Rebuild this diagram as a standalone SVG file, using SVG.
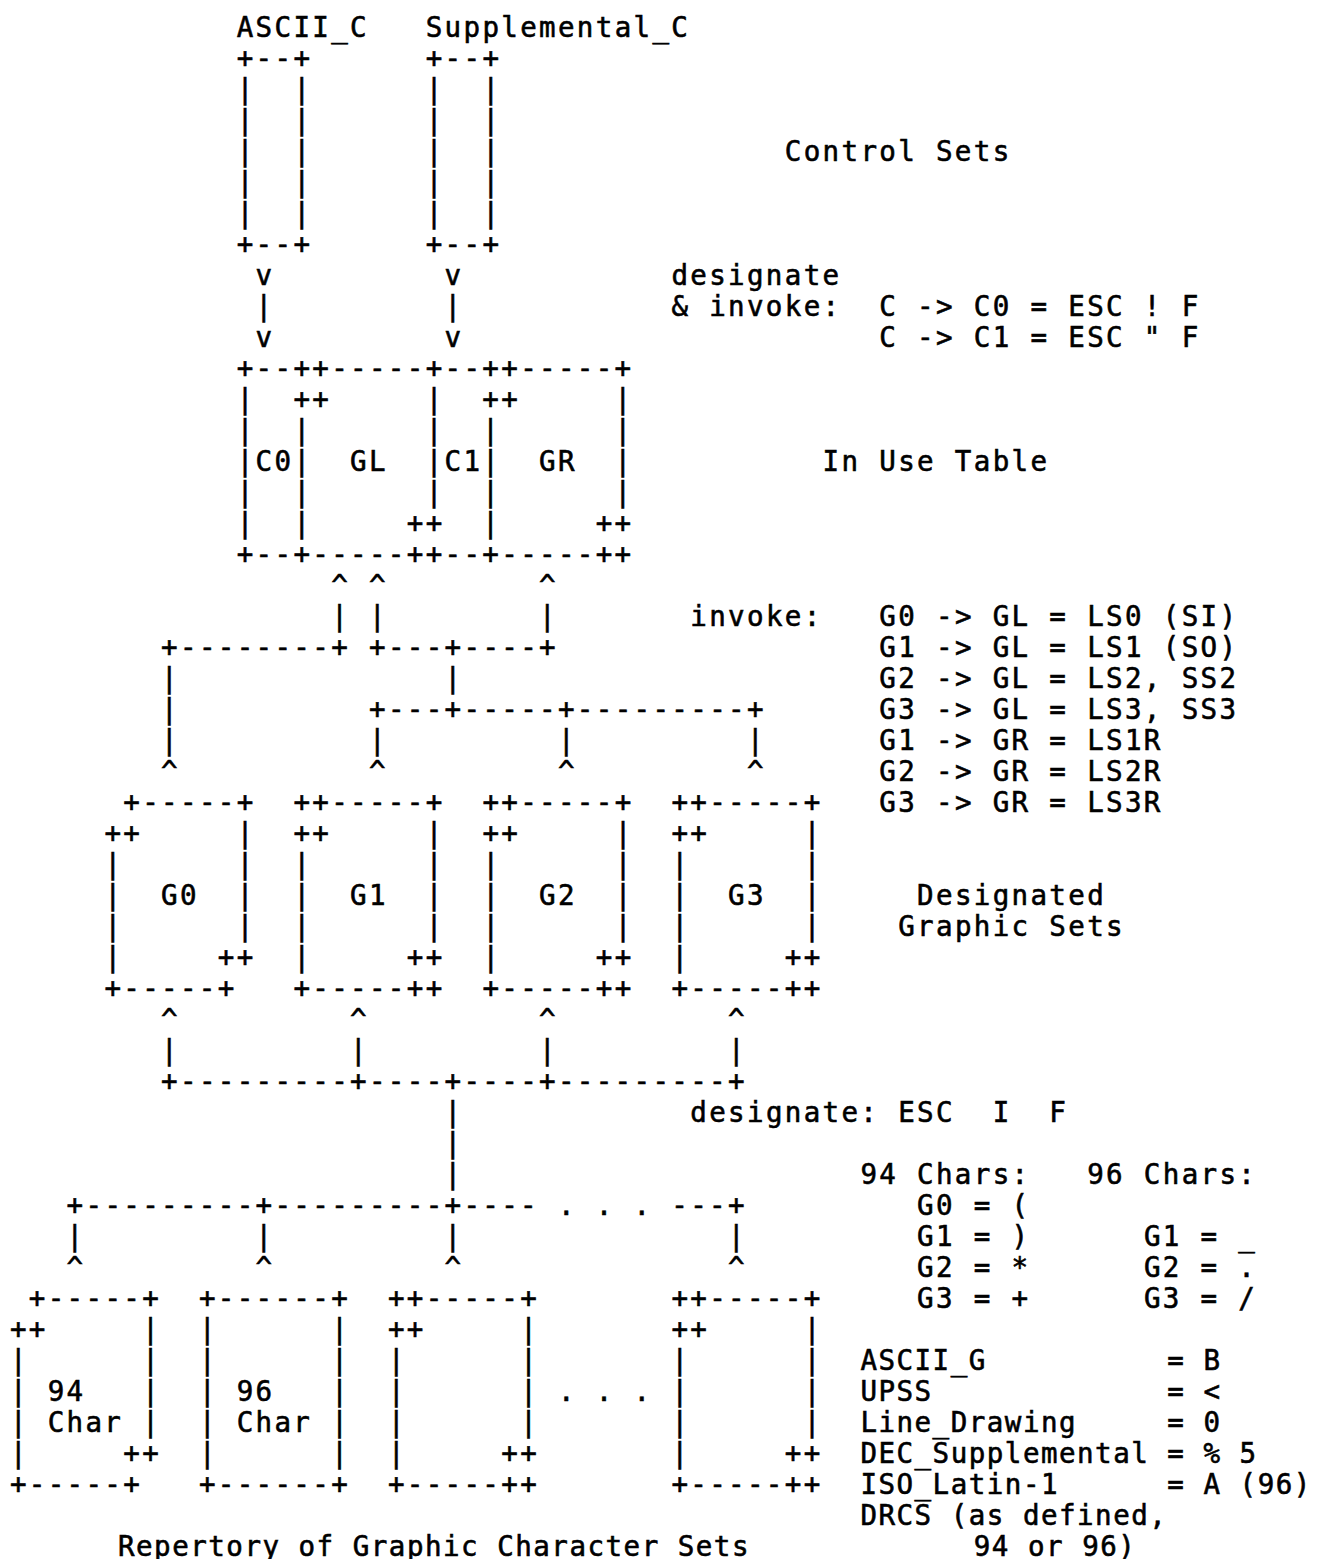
<svg xmlns="http://www.w3.org/2000/svg" width="1334" height="1559" viewBox="0 0 1334 1559">
<style>
text { font-family: "DejaVu Sans Mono", "Liberation Mono", monospace; font-size: 27.5px; letter-spacing: 2.34px; white-space: pre; fill: #000; stroke: #000; stroke-width: 0.6px; }
text.tight { letter-spacing: 1.5px; }
</style>
<rect x="0" y="0" width="1334" height="1559" fill="#fff"/>
<g id="node-ascii-c">
<text xml:space="preserve"><tspan x="236.7" y="37">ASCII_C</tspan><tspan x="236.7" y="68">+--+</tspan><tspan x="236.7" y="99">|  |</tspan><tspan x="236.7" y="130">|  |</tspan><tspan x="236.7" y="161">|  |</tspan><tspan x="236.7" y="192">|  |</tspan><tspan x="236.7" y="223">|  |</tspan><tspan x="236.7" y="254">+--+</tspan></text>
</g>
<g id="node-supplemental-c">
<text xml:space="preserve"><tspan x="425.7" y="37">Supplemental_C</tspan><tspan x="425.7" y="68">+--+</tspan><tspan x="425.7" y="99">|  |</tspan><tspan x="425.7" y="130">|  |</tspan><tspan x="425.7" y="161">|  |</tspan><tspan x="425.7" y="192">|  |</tspan><tspan x="425.7" y="223">|  |</tspan><tspan x="425.7" y="254">+--+</tspan></text>
</g>
<g id="node-in-use-table">
<text xml:space="preserve"><tspan x="236.7" y="378">+--++-----+--++-----+</tspan><tspan x="236.7" y="409">|  ++     |  ++     |</tspan><tspan x="236.7" y="440">|  |      |  |      |</tspan><tspan x="236.7" y="471">|C0|  GL  |C1|  GR  |</tspan><tspan x="236.7" y="502">|  |      |  |      |</tspan><tspan x="236.7" y="533">|  |     ++  |     ++</tspan><tspan x="236.7" y="564">+--+-----++--+-----++</tspan></text>
</g>
<g id="node-g0">
<text xml:space="preserve"><tspan x="123.3" y="812">+-----+</tspan><tspan x="104.4" y="843">++     |</tspan><tspan x="104.4" y="874">|      |</tspan><tspan x="104.4" y="905">|  G0  |</tspan><tspan x="104.4" y="936">|      |</tspan><tspan x="104.4" y="967">|     ++</tspan><tspan x="104.4" y="998">+-----+</tspan></text>
</g>
<g id="node-g1">
<text xml:space="preserve"><tspan x="293.4" y="812">++-----+</tspan><tspan x="293.4" y="843">++     |</tspan><tspan x="293.4" y="874">|      |</tspan><tspan x="293.4" y="905">|  G1  |</tspan><tspan x="293.4" y="936">|      |</tspan><tspan x="293.4" y="967">|     ++</tspan><tspan x="293.4" y="998">+-----++</tspan></text>
</g>
<g id="node-g2">
<text xml:space="preserve"><tspan x="482.4" y="812">++-----+</tspan><tspan x="482.4" y="843">++     |</tspan><tspan x="482.4" y="874">|      |</tspan><tspan x="482.4" y="905">|  G2  |</tspan><tspan x="482.4" y="936">|      |</tspan><tspan x="482.4" y="967">|     ++</tspan><tspan x="482.4" y="998">+-----++</tspan></text>
</g>
<g id="node-g3">
<text xml:space="preserve"><tspan x="671.4" y="812">++-----+</tspan><tspan x="671.4" y="843">++     |</tspan><tspan x="671.4" y="874">|      |</tspan><tspan x="671.4" y="905">|  G3  |</tspan><tspan x="671.4" y="936">|      |</tspan><tspan x="671.4" y="967">|     ++</tspan><tspan x="671.4" y="998">+-----++</tspan></text>
</g>
<g id="node-rep-94">
<text xml:space="preserve"><tspan x="28.8" y="1308">+-----+</tspan><tspan x="9.9" y="1339">++     |</tspan><tspan x="9.9" y="1370">|      |</tspan><tspan x="9.9" y="1401">| 94   |</tspan><tspan x="9.9" y="1432">| Char |</tspan><tspan x="9.9" y="1463">|     ++</tspan><tspan x="9.9" y="1494">+-----+</tspan></text>
</g>
<g id="node-rep-96">
<text xml:space="preserve"><tspan x="198.9" y="1308">+------+</tspan><tspan x="198.9" y="1339">|      |</tspan><tspan x="198.9" y="1370">|      |</tspan><tspan x="198.9" y="1401">| 96   |</tspan><tspan x="198.9" y="1432">| Char |</tspan><tspan x="198.9" y="1463">|      |</tspan><tspan x="198.9" y="1494">+------+</tspan></text>
</g>
<g id="node-rep-3">
<text xml:space="preserve"><tspan x="387.9" y="1308">++-----+</tspan><tspan x="387.9" y="1339">++     |</tspan><tspan x="387.9" y="1370">|      |</tspan><tspan x="387.9" y="1401">|      |</tspan><tspan x="387.9" y="1432">|      |</tspan><tspan x="387.9" y="1463">|     ++</tspan><tspan x="387.9" y="1494">+-----++</tspan></text>
</g>
<g id="node-rep-n">
<text xml:space="preserve"><tspan x="671.4" y="1308">++-----+</tspan><tspan x="671.4" y="1339">++     |</tspan><tspan x="671.4" y="1370">|      |</tspan><tspan x="671.4" y="1401">|      |</tspan><tspan x="671.4" y="1432">|      |</tspan><tspan x="671.4" y="1463">|     ++</tspan><tspan x="671.4" y="1494">+-----++</tspan></text>
</g>
<g id="connectors">
<text xml:space="preserve"><tspan x="255.6" y="285">v</tspan><tspan x="444.6" y="285">v</tspan><tspan x="255.6" y="316">|</tspan><tspan x="444.6" y="316">|</tspan><tspan x="255.6" y="347">v</tspan><tspan x="444.6" y="347">v</tspan></text>
<text xml:space="preserve"><tspan x="331.2" y="595">^</tspan><tspan x="369.0" y="595">^</tspan><tspan x="539.1" y="595">^</tspan><tspan x="331.2" y="626">|</tspan><tspan x="369.0" y="626">|</tspan><tspan x="539.1" y="626">|</tspan><tspan x="161.1" y="657">+--------+</tspan><tspan x="369.0" y="657">+---+----+</tspan><tspan x="161.1" y="688">|</tspan><tspan x="444.6" y="688">|</tspan><tspan x="161.1" y="719">|</tspan><tspan x="369.0" y="719">+---+-----+---------+</tspan><tspan x="161.1" y="750">|</tspan><tspan x="369.0" y="750">|</tspan><tspan x="558.0" y="750">|</tspan><tspan x="747.0" y="750">|</tspan><tspan x="161.1" y="781">^</tspan><tspan x="369.0" y="781">^</tspan><tspan x="558.0" y="781">^</tspan><tspan x="747.0" y="781">^</tspan></text>
<text xml:space="preserve"><tspan x="161.1" y="1029">^</tspan><tspan x="350.1" y="1029">^</tspan><tspan x="539.1" y="1029">^</tspan><tspan x="728.1" y="1029">^</tspan><tspan x="161.1" y="1060">|</tspan><tspan x="350.1" y="1060">|</tspan><tspan x="539.1" y="1060">|</tspan><tspan x="728.1" y="1060">|</tspan><tspan x="161.1" y="1091">+---------+----+----+---------+</tspan><tspan x="444.6" y="1122">|</tspan><tspan x="444.6" y="1153">|</tspan><tspan x="444.6" y="1184">|</tspan><tspan x="66.6" y="1215">+---------+---------+---- . . . ---+</tspan><tspan x="66.6" y="1246">|</tspan><tspan x="255.6" y="1246">|</tspan><tspan x="444.6" y="1246">|</tspan><tspan x="728.1" y="1246">|</tspan><tspan x="66.6" y="1277">^</tspan><tspan x="255.6" y="1277">^</tspan><tspan x="444.6" y="1277">^</tspan><tspan x="728.1" y="1277">^</tspan></text>
<text xml:space="preserve" x="558.0" y="1401">. . .</text>
</g>
<g id="labels">
<text xml:space="preserve" x="784.8" y="161">Control Sets</text>
<text xml:space="preserve"><tspan x="671.4" y="285">designate</tspan><tspan x="671.4" y="316">&amp; invoke:</tspan><tspan x="879.3" y="316">C -&gt; C0 = ESC ! F</tspan><tspan x="879.3" y="347">C -&gt; C1 = ESC " F</tspan></text>
<text xml:space="preserve" x="822.6" y="471">In Use Table</text>
<text xml:space="preserve"><tspan x="690.3" y="626">invoke:</tspan><tspan x="879.3" y="626">G0 -&gt; GL = LS0 (SI)</tspan><tspan x="879.3" y="657">G1 -&gt; GL = LS1 (SO)</tspan><tspan x="879.3" y="688">G2 -&gt; GL = LS2, SS2</tspan><tspan x="879.3" y="719">G3 -&gt; GL = LS3, SS3</tspan><tspan x="879.3" y="750">G1 -&gt; GR = LS1R</tspan><tspan x="879.3" y="781">G2 -&gt; GR = LS2R</tspan><tspan x="879.3" y="812">G3 -&gt; GR = LS3R</tspan></text>
<text xml:space="preserve"><tspan x="917.1" y="905">Designated</tspan><tspan x="898.2" y="936">Graphic Sets</tspan></text>
<text xml:space="preserve" x="690.3" y="1122">designate: ESC  I  F</text>
<text xml:space="preserve"><tspan x="860.4" y="1184">94 Chars:   96 Chars:</tspan><tspan x="917.1" y="1215">G0 = (</tspan><tspan x="917.1" y="1246">G1 = )</tspan><tspan x="1143.9" y="1246">G1 = _</tspan><tspan x="917.1" y="1277">G2 = *</tspan><tspan x="1143.9" y="1277">G2 = .</tspan><tspan x="917.1" y="1308">G3 = +</tspan><tspan x="1143.9" y="1308">G3 = /</tspan></text>
<text class="tight" xml:space="preserve"><tspan x="860.4" y="1370">ASCII_G          = B</tspan><tspan x="860.4" y="1401">UPSS             = &lt;</tspan><tspan x="860.4" y="1432">Line_Drawing     = 0</tspan><tspan x="860.4" y="1463">DEC_Supplemental = % 5</tspan><tspan x="860.4" y="1494">ISO_Latin-1      = A (96)</tspan><tspan x="860.4" y="1525">DRCS (as defined,</tspan><tspan x="973.8" y="1556">94 or 96)</tspan></text>
<text class="tight" xml:space="preserve" x="118" y="1556">Repertory of Graphic Character Sets</text>
</g>
</svg>
